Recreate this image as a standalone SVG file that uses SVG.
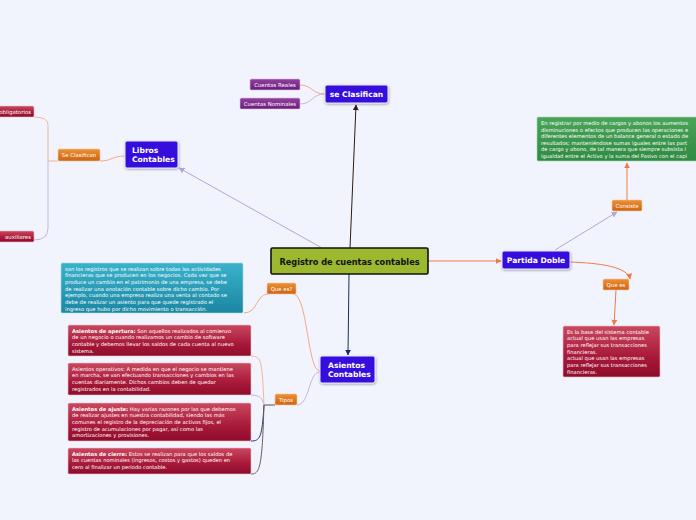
<svg xmlns="http://www.w3.org/2000/svg" width="696" height="520" viewBox="0 0 696 520">
<style>
text{font-family:"DejaVu Sans","Liberation Sans",sans-serif}
.sm{font-size:5.2px;fill:#fff}
.lb{font-size:5.4px;fill:#fff;text-anchor:middle}
.bt{font-size:7.6px;font-weight:bold;fill:#fff}
.c{fill:none;stroke-width:1}
.blue{fill:#3510dc;stroke:#e8e6ff;stroke-width:1}
.org{fill:url(#gO);stroke:#f6c8a0;stroke-width:.6}
.red{fill:url(#gR);stroke:#f0c0c8;stroke-width:.6}
.pur{fill:url(#gP);stroke:#d8b8e0;stroke-width:.6}
</style>
<defs>
<linearGradient id="gO" x1="0" y1="0" x2="0" y2="1"><stop offset="0" stop-color="#ec9034"/><stop offset="1" stop-color="#cf6310"/></linearGradient>
<linearGradient id="gR" x1="0" y1="0" x2="0" y2="1"><stop offset="0" stop-color="#c9485f"/><stop offset=".6" stop-color="#a8193a"/><stop offset="1" stop-color="#8e0c2a"/></linearGradient>
<linearGradient id="gP" x1="0" y1="0" x2="0" y2="1"><stop offset="0" stop-color="#93409f"/><stop offset="1" stop-color="#6a1d7c"/></linearGradient>
<linearGradient id="gG" x1="0" y1="0" x2="0" y2="1"><stop offset="0" stop-color="#4aa55a"/><stop offset="1" stop-color="#2f8a42"/></linearGradient>
<linearGradient id="gT" x1="0" y1="0" x2="0" y2="1"><stop offset="0" stop-color="#3ab2cc"/><stop offset="1" stop-color="#1b87a2"/></linearGradient>
<filter id="sh" x="-10%" y="-10%" width="130%" height="140%"><feDropShadow dx="0.5" dy="1" stdDeviation="0.8" flood-color="#000" flood-opacity="0.35"/></filter>
<marker id="aK" viewBox="0 0 10 10" refX="9" refY="5" markerWidth="6" markerHeight="6" orient="auto-start-reverse"><path d="M0,0L10,5L0,10z" fill="#2b1d14"/></marker>
<marker id="aL" viewBox="0 0 10 10" refX="9" refY="5" markerWidth="6" markerHeight="6" orient="auto-start-reverse"><path d="M0,0L10,5L0,10z" fill="#b8a3d8"/></marker>
<marker id="aO" viewBox="0 0 10 10" refX="9" refY="5" markerWidth="6" markerHeight="6" orient="auto-start-reverse"><path d="M0,0L10,5L0,10z" fill="#ee7a48"/></marker>
<marker id="aN" viewBox="0 0 10 10" refX="9" refY="5" markerWidth="6" markerHeight="6" orient="auto-start-reverse"><path d="M0,0L10,5L0,10z" fill="#1c2a60"/></marker>
</defs>
<rect width="696" height="520" fill="#f2f4fd"/>

<g id="connectors">
<line x1="350" y1="248" x2="356" y2="105" class="c" stroke="#2b1d14" marker-end="url(#aK)"/>
<line x1="322" y1="248" x2="179" y2="168" class="c" stroke="#b8a3d8" marker-end="url(#aL)"/>
<line x1="428" y1="261" x2="501" y2="261" class="c" stroke="#ee7a48" marker-end="url(#aO)"/>
<line x1="349" y1="274" x2="348" y2="355" class="c" stroke="#1c2a60" marker-end="url(#aN)"/>
<path d="M325,94 C312,94 312,85 300,85" class="c" stroke="#f2a888"/>
<path d="M325,94 C312,94 312,104 300,104" class="c" stroke="#c8b4e0"/>
<path d="M125,156 C112,156 112,161 100,161" class="c" stroke="#f2a888"/>
<path d="M58,161 L48,161 L48,125 Q48,117 34,117" class="c" stroke="#f2b49a"/>
<path d="M48,161 L48,228 Q48,240 34,240" class="c" stroke="#c8b4e0"/>
<line x1="555" y1="250" x2="617" y2="212" class="c" stroke="#b8a3d8" marker-end="url(#aL)"/>
<line x1="627" y1="200" x2="627" y2="163" class="c" stroke="#ee7a48" marker-end="url(#aO)"/>
<path d="M570,262 C600,263 628,267 630,279" class="c" stroke="#ee7a48" marker-end="url(#aO)"/>
<line x1="616" y1="290" x2="614" y2="325" class="c" stroke="#ee7a48" marker-end="url(#aO)"/>
<path d="M320,371 C307,371 308,294 293,294" class="c" stroke="#f2a888"/>
<path d="M268,294 C256,294 258,313 244,313" class="c" stroke="#f2a888"/>
<path d="M320,372 C308,372 310,405 297,405" class="c" stroke="#c8b4e0"/>
<line x1="275" y1="405" x2="264" y2="405" class="c" stroke="#5a4a48"/>
<path d="M264,405 C262,362 262,356 251,356" class="c" stroke="#f2b49a"/>
<path d="M264,405 C262,398 260,395 251,395" class="c" stroke="#c8b4e0"/>
<path d="M264,405 C262,438 260,441 251,441" class="c" stroke="#2a3a78"/>
<path d="M264,405 C262,468 260,474 251,474" class="c" stroke="#6a5a5a"/>
</g>

<g id="central">
<rect x="271" y="248" width="157" height="26" fill="#9bb82e" stroke="#111" stroke-width="1.6" rx="1.5"/>
<text x="349.5" y="264.5" text-anchor="middle" font-size="8.2" font-weight="bold" fill="#111">Registro de cuentas contables</text>
</g>

<g id="se-clasifican">
<rect x="325" y="85" width="63" height="18" rx="2" class="blue" filter="url(#sh)"/>
<text x="356.5" y="96.8" text-anchor="middle" class="bt">se Clasifican</text>
</g>
<g id="cuentas-reales">
<rect x="250" y="79" width="50" height="11" rx="1.5" class="pur"/>
<text x="275" y="86.6" class="lb">Cuentas Reales</text>
</g>
<g id="cuentas-nominales">
<rect x="240" y="98" width="60" height="11" rx="1.5" class="pur"/>
<text x="270" y="105.6" class="lb">Cuentas Nominales</text>
</g>

<g id="libros-contables">
<rect x="125" y="141" width="53" height="27" rx="2" class="blue" filter="url(#sh)"/>
<text x="132" y="152.5" class="bt">Libros</text>
<text x="132" y="162" class="bt">Contables</text>
</g>
<g id="se-clasifican-2">
<rect x="58" y="149" width="42" height="12" rx="1.5" class="org"/>
<text x="79" y="157.2" class="lb">Se Clasifican</text>
</g>
<g id="libros-obligatorios">
<rect x="-30" y="106" width="64" height="11" rx="1.5" class="red"/>
<text x="31" y="113.6" class="lb" style="text-anchor:end">obligatorios</text>
</g>
<g id="libros-auxiliares">
<rect x="-30" y="231" width="64" height="11" rx="1.5" class="red"/>
<text x="31" y="238.6" class="lb" style="text-anchor:end">auxiliares</text>
</g>

<g id="partida-doble">
<rect x="502" y="251" width="68" height="18" rx="2" class="blue" filter="url(#sh)"/>
<text x="536" y="262.8" text-anchor="middle" class="bt">Partida Doble</text>
</g>
<g id="consiste">
<rect x="612" y="200" width="30" height="11" rx="1.5" class="org"/>
<text x="627" y="207.6" class="lb">Consiste</text>
</g>
<g id="consiste-texto">
<rect x="537" y="117" width="170" height="44" rx="1.5" fill="url(#gG)" stroke="#a8d8b0" stroke-width=".6"/>
<text class="sm"><tspan x="541" y="125">En registrar por medio de cargos y abonos los aumentos</tspan><tspan x="541" y="131.6">disminuciones o efectos que producen las operaciones e</tspan><tspan x="541" y="138.2">diferentes elementos de un balance general o estado de</tspan><tspan x="541" y="144.8">resultados; manteniéndose sumas iguales entre las part</tspan><tspan x="541" y="151.4">de cargo y abono, de tal manera que siempre subsista l</tspan><tspan x="541" y="158">igualdad entre el Activo y la suma del Pasivo con el capi</tspan></text>
</g>
<g id="que-es">
<rect x="603" y="279" width="26" height="11" rx="1.5" class="org"/>
<text x="616" y="286.6" class="lb">Que es</text>
</g>
<g id="que-es-texto">
<rect x="563" y="326" width="97" height="51" rx="1.5" class="red"/>
<text class="sm"><tspan x="567" y="333.5">Es la base del sistema contable</tspan><tspan x="567" y="340.2">actual que usan las empresas</tspan><tspan x="567" y="346.9">para reflejar sus transacciones</tspan><tspan x="567" y="353.6">financieras.</tspan><tspan x="567" y="360.3">actual que usan las empresas</tspan><tspan x="567" y="367">para reflejar sus transacciones</tspan><tspan x="567" y="373.7">financieras.</tspan></text>
</g>

<g id="asientos-contables">
<rect x="320" y="356" width="55" height="27" rx="2" class="blue" filter="url(#sh)"/>
<text x="328" y="367.5" class="bt">Asientos</text>
<text x="328" y="376.5" class="bt">Contables</text>
</g>
<g id="que-es-2">
<rect x="267" y="283" width="29" height="11" rx="1.5" class="org"/>
<text x="281.5" y="290.6" class="lb">Que es?</text>
</g>
<g id="que-es-2-texto">
<rect x="61" y="263" width="182" height="50" rx="1.5" fill="url(#gT)" stroke="#a8dce8" stroke-width=".6"/>
<text class="sm"><tspan x="65" y="270.5">son los registros que se realizan sobre todas las actividades</tspan><tspan x="65" y="277.2">financieras que se producen en los negocios. Cada vez que se</tspan><tspan x="65" y="283.9">produce un cambio en el patrimonio de una empresa, se debe</tspan><tspan x="65" y="290.6">de realizar una anotación contable sobre dicho cambio. Por</tspan><tspan x="65" y="297.3">ejemplo, cuando una empresa realiza una venta al contado se</tspan><tspan x="65" y="304">debe de realizar un asiento para que quede registrado el</tspan><tspan x="65" y="310.7">ingreso que hubo por dicho movimiento o transacción.</tspan></text>
</g>
<g id="tipos">
<rect x="275" y="394" width="22" height="11" rx="1.5" class="org"/>
<text x="286" y="401.6" class="lb">Tipos</text>
</g>
<g id="apertura">
<rect x="68" y="325" width="183" height="31" rx="1.5" class="red"/>
<text class="sm"><tspan x="72" y="332.5"><tspan font-weight="bold">Asientos de apertura:</tspan> Son aquellos realizados al comienzo</tspan><tspan x="72" y="339.2">de un negocio o cuando realizamos un cambio de software</tspan><tspan x="72" y="345.9">contable y debemos llevar los saldos de cada cuenta al nuevo</tspan><tspan x="72" y="352.6">sistema.</tspan></text>
</g>
<g id="operativos">
<rect x="68" y="363" width="183" height="32" rx="1.5" class="red"/>
<text class="sm"><tspan x="72" y="370.5">Asientos operativos: A medida en que el negocio se mantiene</tspan><tspan x="72" y="377.2">en marcha, se van efectuando transacciones y cambios en las</tspan><tspan x="72" y="383.9">cuentas diariamente. Dichos cambios deben de quedar</tspan><tspan x="72" y="390.6">registrados en la contabilidad.</tspan></text>
</g>
<g id="ajuste">
<rect x="68" y="403" width="183" height="38" rx="1.5" class="red"/>
<text class="sm"><tspan x="72" y="410.5"><tspan font-weight="bold">Asientos de ajuste:</tspan> Hay varias razones por las que debemos</tspan><tspan x="72" y="417.2">de realizar ajustes en nuestra contabilidad, siendo las más</tspan><tspan x="72" y="423.9">comunes el registro de la depreciación de activos fijos, el</tspan><tspan x="72" y="430.6">registro de acumulaciones por pagar, así como las</tspan><tspan x="72" y="437.3">amortizaciones y provisiones.</tspan></text>
</g>
<g id="cierre">
<rect x="68" y="448" width="183" height="26" rx="1.5" class="red"/>
<text class="sm"><tspan x="72" y="455.5"><tspan font-weight="bold">Asientos de cierre:</tspan> Estos se realizan para que los saldos de</tspan><tspan x="72" y="462.2">las cuentas nominales (ingresos, costos y gastos) queden en</tspan><tspan x="72" y="468.9">cero al finalizar un periodo contable.</tspan></text>
</g>
</svg>
